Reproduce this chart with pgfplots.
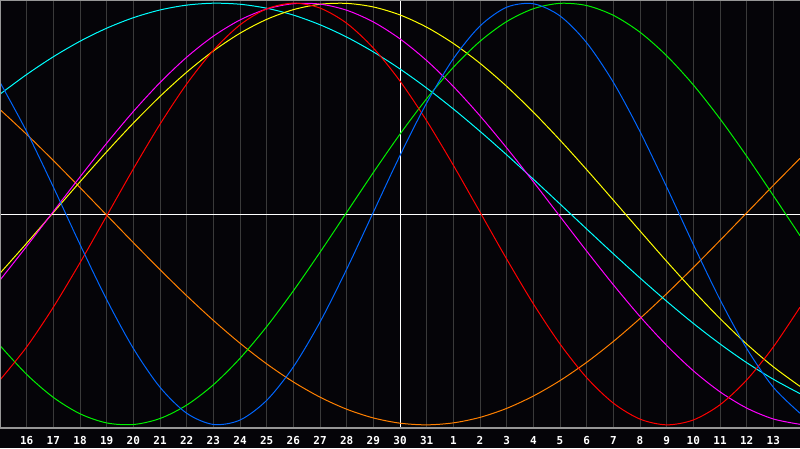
\documentclass[border=0pt]{standalone}
\usepackage{pgfplots}
\usepackage{pgfplotstable}
\pgfplotsset{compat=1.18}
\usepackage{fontspec}
\setmonofont{DejaVu Sans Mono}
\definecolor{bg}{RGB}{5,4,8}
\definecolor{gridc}{RGB}{58,58,58}
\definecolor{bordc}{RGB}{150,150,150}
\definecolor{cblue}{RGB}{0,102,255}
\definecolor{cred}{RGB}{255,0,0}
\definecolor{cgreen}{RGB}{0,240,0}
\definecolor{cmag}{RGB}{255,0,255}
\definecolor{cyel}{RGB}{255,255,0}
\definecolor{corange}{RGB}{255,128,0}
\definecolor{ccyan}{RGB}{0,255,255}
\pgfplotstableread{
t bl rd gr mg ye or cy
0 0.6246 -0.7873 -0.6241 -0.3136 -0.2811 0.4955 0.5684
1 0.3909 -0.6304 -0.7607 -0.1531 -0.1385 0.3778 0.6617
2 0.1281 -0.4420 -0.8698 0.0117 0.0072 0.2538 0.7458
3 -0.1444 -0.2313 -0.9475 0.1760 0.1526 0.1253 0.8194
4 -0.4059 -0.0089 -0.9909 0.3356 0.2951 -0.0052 0.8813
5 -0.6374 0.2139 -0.9985 0.4862 0.4310 -0.1357 0.9310
6 -0.8217 0.4258 -0.9700 0.6233 0.5577 -0.2639 0.9677
7 -0.9449 0.6165 -0.9064 0.7436 0.6726 -0.3875 0.9907
8 -0.9982 0.7762 -0.8101 0.8434 0.7732 -0.5045 0.9998
9 -0.9773 0.8970 -0.6845 0.9204 0.8574 -0.6129 0.9949
10 -0.8840 0.9729 -0.5342 0.9722 0.9231 -0.7108 0.9760
11 -0.7252 1.0000 -0.3646 0.9975 0.9692 -0.7965 0.9435
12 -0.5126 0.9768 -0.1817 0.9956 0.9948 -0.8686 0.8976
13 -0.2618 0.9048 0.0077 0.9665 0.9990 -0.9259 0.8393
14 0.0082 0.7873 0.1968 0.9110 0.9820 -0.9673 0.7689
15 0.2776 0.6305 0.3788 0.8306 0.9441 -0.9921 0.6879
16 0.5265 0.4420 0.5469 0.7278 0.8860 -1.0000 0.5973
17 0.7364 0.2313 0.6956 0.6050 0.8090 -0.9907 0.4983
18 0.8916 0.0091 0.8190 0.4656 0.7148 -0.9646 0.3922
19 0.9807 -0.2137 0.9127 0.3136 0.6054 -0.9219 0.2807
20 0.9971 -0.4258 0.9736 0.1531 0.4831 -0.8634 0.1652
21 0.9395 -0.6162 0.9992 -0.0117 0.3505 -0.7902 0.0475
22 0.8122 -0.7762 0.9887 -0.1760 0.2103 -0.7034 -0.0711
23 0.6246 -0.8970 0.9424 -0.3356 0.0658 -0.6046 -0.1886
24 0.3909 -0.9729 0.8621 -0.4862 -0.0802 -0.4955 -0.3034
25 0.1281 -1.0000 0.7506 -0.6233 -0.2245 -0.3778 -0.4139
26 -0.1444 -0.9768 0.6122 -0.7436 -0.3640 -0.2538 -0.5188
27 -0.4059 -0.9048 0.4515 -0.8434 -0.4957 -0.1253 -0.6162
28 -0.6374 -0.7873 0.2744 -0.9204 -0.6169 0.0052 -0.7050
29 -0.8217 -0.6304 0.0875 -0.9722 -0.7248 0.1357 -0.7838
30 -0.9449 -0.4420 -0.1026 -0.9975 -0.8176 0.2639 -0.8520
}\data
\begin{document}
\begin{tikzpicture}
\fill[bg] (0,-20pt) rectangle (800pt,428pt);
\begin{axis}[
  at={(0,0)}, anchor=south west,
  scale only axis, width=800pt, height=428pt,
  xmin=0, xmax=30, ymin=-1.015, ymax=1.015,
  axis line style={draw=none},
  xtick={1,...,29},
  xticklabels={16,17,18,19,20,21,22,23,24,25,26,27,28,29,30,31,1,2,3,4,5,6,7,8,9,10,11,12,13},
  xticklabel style={anchor=north, inner sep=0pt, yshift=-8pt, text=white, font=\ttfamily\bfseries\fontsize{11}{11}\selectfont},
  major tick length=0pt,
  ytick=\empty,
  xmajorgrids,
  major grid style={gridc, line width=1pt},
  every axis plot/.append style={line width=1pt, smooth, no markers},
  clip=true,
]
\addplot[white, line width=1pt, sharp plot] coordinates {(0,0) (30,0)};
\addplot[white, line width=1pt, sharp plot] coordinates {(15,-1.1) (15,1.1)};
\addplot[corange] table[x=t,y=or] {\data};
\addplot[ccyan] table[x=t,y=cy] {\data};
\addplot[cyel] table[x=t,y=ye] {\data};
\addplot[cmag] table[x=t,y=mg] {\data};
\addplot[cgreen] table[x=t,y=gr] {\data};
\addplot[cred] table[x=t,y=rd] {\data};
\addplot[cblue] table[x=t,y=bl] {\data};
\draw[bordc, line width=1.5pt] (rel axis cs:0,1) -- (rel axis cs:0,0) -- (rel axis cs:1,0);
\draw[bordc, line width=1.5pt] (rel axis cs:0,1) -- (rel axis cs:1,1);
\end{axis}
\pgfresetboundingbox
\path (0,-20pt) rectangle (800pt,428pt);
\end{tikzpicture}
\end{document}
